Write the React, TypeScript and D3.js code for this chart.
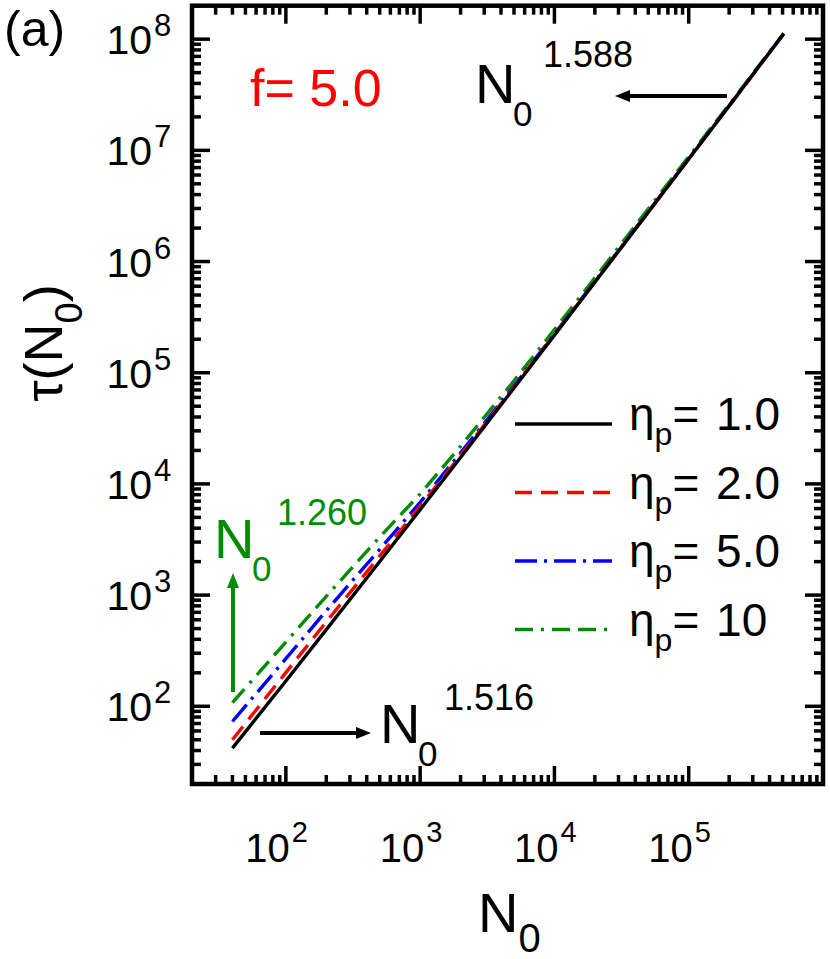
import { useEffect, useRef } from 'react'
import * as d3 from 'd3'

// N0 values and tau(N0) for each eta_p (log-log)
const n0 = [40, 100, 200, 500, 1000, 2000, 5000, 10000, 20000, 50000, 100000, 200000, 510000]
const tauEta1 = [42, 169, 489, 2005, 5870, 17300, 72900, 217000, 650000, 2780000, 8350000, 25100000, 112000000]
const tauEta2 = [50, 201, 574, 2250, 6300, 18000, 74600, 220000, 656000, 2790000, 8370000, 25100000, 112000000]
const tauEta5 = [73, 268, 723, 2580, 6820, 19000, 76400, 223000, 662000, 2810000, 8410000, 25200000, 112000000]
const tauEta10 = [108, 378, 975, 3330, 8110, 21800, 84700, 244000, 713000, 2980000, 8750000, 25800000, 113000000]

const etaLabels = ['1.0', '2.0', '5.0', '10']
const xDecades = [2, 3, 4, 5]
const yDecades = [2, 3, 4, 5, 6, 7, 8]

const W = 830
const H = 959
const FONT = "'Liberation Sans', Arial, Helvetica, sans-serif"
const GREEN = '#008c00'

export default function App() {
  const svgRef = useRef<SVGSVGElement | null>(null)

  useEffect(() => {
    document.body.style.margin = '0'
    const frame = { left: 192, right: 823, top: 5.7, bottom: 784 }

    const svg = d3.select(svgRef.current)
    svg.selectAll('*').remove()
    svg.attr('viewBox', `0 0 ${W} ${H}`).attr('font-family', FONT)

    // ================= SCALES =================
    const x = d3.scaleLog().domain([20, 1e6]).range([frame.left, frame.right])
    const y = d3.scaleLog().domain([20, 2e8]).range([frame.bottom, frame.top])

    // ================= SERIES =================
    const series = [
      { label: etaLabels[3], values: tauEta10, color: GREEN, dash: '18,8,3,8,18,8' },
      { label: etaLabels[2], values: tauEta5, color: '#0000ff', dash: '22,7,3,7' },
      { label: etaLabels[1], values: tauEta2, color: '#ff0000', dash: '17,9' },
      { label: etaLabels[0], values: tauEta1, color: '#000000', dash: null },
    ]

    const line = d3
      .line<[number, number]>()
      .x((d) => x(d[0]))
      .y((d) => y(d[1]))

    const plot = svg.append('g')
    series.forEach((s) => {
      plot
        .append('path')
        .datum(n0.map((n, i) => [n, s.values[i]] as [number, number]))
        .attr('fill', 'none')
        .attr('stroke', s.color)
        .attr('stroke-width', 3.4)
        .attr('stroke-dasharray', s.dash)
        .attr('d', line)
    })

    // ================= FRAME + TICKS =================
    const axes = svg.append('g').attr('stroke', '#000')
    const majorLen = 18
    const minorLen = 9
    const xTicks: { v: number; major: boolean }[] = []
    for (let k = 1; k <= 6; k++) {
      for (let m = 1; m <= 9; m++) {
        const v = m * 10 ** k
        if (v >= 20 && v <= 1e6) xTicks.push({ v, major: m === 1 })
      }
    }
    const yTicks: { v: number; major: boolean }[] = []
    for (let k = 1; k <= 8; k++) {
      for (let m = 1; m <= 9; m++) {
        const v = m * 10 ** k
        if (v >= 20 && v <= 2e8) yTicks.push({ v, major: m === 1 })
      }
    }
    xTicks.forEach((t) => {
      const len = t.major ? majorLen : minorLen
      const px = x(t.v)
      axes.append('line').attr('x1', px).attr('x2', px).attr('y1', frame.bottom).attr('y2', frame.bottom - len).attr('stroke-width', 3.5)
      axes.append('line').attr('x1', px).attr('x2', px).attr('y1', frame.top).attr('y2', frame.top + len).attr('stroke-width', 3.5)
    })
    yTicks.forEach((t) => {
      const len = t.major ? majorLen : minorLen
      const py = y(t.v)
      axes.append('line').attr('y1', py).attr('y2', py).attr('x1', frame.left).attr('x2', frame.left + len).attr('stroke-width', 3.5)
      axes.append('line').attr('y1', py).attr('y2', py).attr('x1', frame.right).attr('x2', frame.right - len).attr('stroke-width', 3.5)
    })
    axes
      .append('rect')
      .attr('x', frame.left)
      .attr('y', frame.top)
      .attr('width', frame.right - frame.left)
      .attr('height', frame.bottom - frame.top)
      .attr('fill', 'none')
      .attr('stroke-width', 4.5)

    // ================= TICK LABELS =================
    yDecades.forEach((k) => {
      const py = y(10 ** k)
      svg.append('text').attr('x', 152).attr('y', py + 15).attr('text-anchor', 'end').attr('font-size', 41).text('10')
      svg.append('text').attr('x', 154).attr('y', py - 3).attr('font-size', 31).text(String(k))
    })
    xDecades.forEach((k) => {
      const px = x(10 ** k)
      svg.append('text').attr('x', px + 4).attr('y', 862).attr('text-anchor', 'end').attr('font-size', 40).text('10')
      svg.append('text').attr('x', px + 6).attr('y', 842).attr('font-size', 29).text(String(k))
    })

    // ================= AXIS LABELS =================
    const xl = svg.append('text').attr('x', 478).attr('y', 932).attr('font-size', 56)
    xl.append('tspan').text('N')
    xl.append('tspan').attr('dy', 20).attr('font-size', 40).text('0')

    const yl = svg
      .append('text')
      .attr('transform', 'translate(62,343) rotate(-90)')
      .attr('text-anchor', 'middle')
      .attr('font-size', 54)
    yl.append('tspan').text('\u03c4(N')
    yl.append('tspan').attr('dy', 20).attr('font-size', 38).text('0')
    yl.append('tspan').attr('dy', -20).text(')')

    svg.append('text').attr('x', 4).attr('y', 46).attr('font-size', 50).text('(a)')
    svg.append('text').attr('x', 250).attr('y', 106).attr('font-size', 52).attr('fill', '#ff0000').text('f= 5.0')

    // ================= LEGEND =================
    const legendOrder = [series[3], series[2], series[1], series[0]]
    legendOrder.forEach((s, i) => {
      const ly = 424 + i * 68.5
      svg
        .append('line')
        .attr('x1', 515)
        .attr('x2', 612)
        .attr('y1', ly)
        .attr('y2', ly)
        .attr('stroke', s.color)
        .attr('stroke-width', 3.4)
        .attr('stroke-dasharray', s.dash)
      const t = svg.append('text').attr('x', 629).attr('y', ly + 6).attr('font-size', 46)
      t.append('tspan').text('\u03b7')
      t.append('tspan').attr('dy', 15).attr('font-size', 32).text('p')
      t.append('tspan').attr('dy', -15).text('=')
      t.append('tspan').attr('dx', 4).text(' ' + s.label)
    })

    // ================= ANNOTATIONS =================
    const arrow = (x1: number, y1: number, x2: number, y2: number, color: string) => {
      const ang = Math.atan2(y2 - y1, x2 - x1)
      const hl = 15
      const hw = 6
      const bx = x2 - hl * Math.cos(ang)
      const by = y2 - hl * Math.sin(ang)
      svg.append('line').attr('x1', x1).attr('y1', y1).attr('x2', bx).attr('y2', by).attr('stroke', color).attr('stroke-width', 4)
      svg
        .append('path')
        .attr('fill', color)
        .attr(
          'd',
          `M${x2},${y2}L${bx - hw * Math.sin(ang)},${by + hw * Math.cos(ang)}L${bx + hw * Math.sin(ang)},${by - hw * Math.cos(ang)}Z`,
        )
    }

    const power = (nx: number, ny: number, exp: string, ex: number, ey: number, color: string) => {
      svg.append('text').attr('x', nx).attr('y', ny).attr('font-size', 56).attr('fill', color).text('N')
      svg.append('text').attr('x', nx + 38).attr('y', ny + 23).attr('font-size', 35).attr('fill', color).text('0')
      svg.append('text').attr('x', ex).attr('y', ey).attr('font-size', 36).attr('fill', color).text(exp)
    }

    power(475, 103, '1.588', 543, 67, '#000')
    arrow(727, 96, 615, 96, '#000')

    power(380, 743, '1.516', 444, 710, '#000')
    arrow(260, 733, 371, 733, '#000')

    power(214, 558, '1.260', 277, 525, GREEN)
    arrow(233, 692, 233, 573, GREEN)
  }, [])

  return <svg ref={svgRef} width={W} height={H} style={{ display: 'block' }} />
}
